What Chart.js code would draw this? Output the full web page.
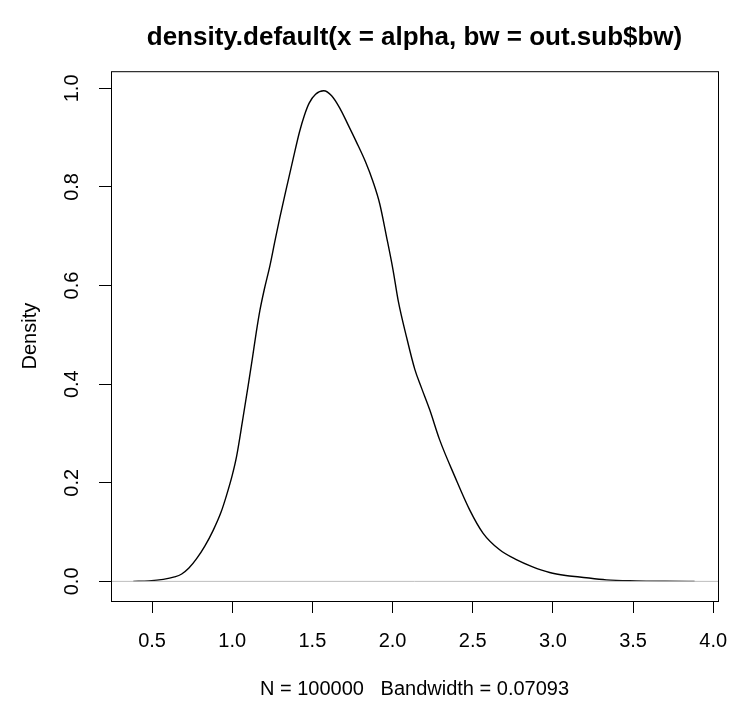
<!DOCTYPE html>
<html>
<head>
<meta charset="utf-8">
<script src="https://cdn.jsdelivr.net/npm/chart.js@4/dist/chart.umd.min.js"></script>
<style>
    html, body { margin: 0; padding: 0; background: #fff; }
    #densityChart { display: block; }
</style>
</head>
<body>
<canvas id="densityChart" width="729" height="702"></canvas>
<script>
// Density estimate
const alphaX = [0.383, 0.48, 0.570, 0.640, 0.685, 0.730, 0.778, 0.830, 0.882, 0.930,
    0.965, 1.000, 1.027, 1.065, 1.100, 1.127, 1.150, 1.173, 1.200, 1.235,
    1.265, 1.297, 1.340, 1.380, 1.420, 1.450, 1.480, 1.520, 1.571, 1.620,
    1.671, 1.720, 1.775, 1.830, 1.879, 1.920, 1.962, 2.003, 2.035, 2.087,
    2.139, 2.180, 2.232, 2.294, 2.388, 2.481, 2.564, 2.668, 2.772, 2.870,
    2.980, 3.080, 3.167, 3.333, 3.520, 3.700, 3.884];
const densityY = [0.000, 0.001, 0.004, 0.009, 0.015, 0.027, 0.046, 0.072, 0.104, 0.140,
    0.175, 0.215, 0.253, 0.327, 0.398, 0.455, 0.505, 0.550, 0.592, 0.640,
    0.688, 0.738, 0.800, 0.857, 0.912, 0.945, 0.970, 0.988, 0.995, 0.985,
    0.960, 0.928, 0.891, 0.852, 0.810, 0.766, 0.700, 0.632, 0.570, 0.496,
    0.430, 0.393, 0.348, 0.287, 0.213, 0.145, 0.098, 0.064, 0.044, 0.030,
    0.018, 0.012, 0.009, 0.003, 0.001, 0.0003, 0.000];

// Axis ranges and ticks
const xRange = [0.244, 4.03];
const yRange = [-0.0398, 1.0348];
const xTickStep = 0.5;
const yTickStep = 0.2;

const titleText = 'density.default(x = alpha, bw = out.sub$bw)';
const xLabel = 'N = 100000   Bandwidth = 0.07093';
const yLabel = 'Density';

const FONT = '"Liberation Sans", Arial, Helvetica, sans-serif';

// Box around the plot region
const boxPlugin = {
    id: 'plotBox',
    afterDraw(chart) {
        const { ctx, chartArea } = chart;
        ctx.save();
        ctx.strokeStyle = '#000';
        ctx.lineWidth = 1;
        ctx.strokeRect(chartArea.left + 0.5, chartArea.top + 0.5,
            chartArea.right - chartArea.left, chartArea.bottom - chartArea.top);
        ctx.restore();
    }
};

const curvePoints = alphaX.map((x, i) => ({ x: x, y: densityY[i] }));
const zeroLine = xRange.map(x => ({ x: x, y: 0 }));

new Chart(document.getElementById('densityChart'), {
    type: 'line',
    data: {
        datasets: [
            {
                label: 'zero',
                data: zeroLine,
                borderColor: '#bebebe',
                borderWidth: 1,
                pointRadius: 0,
                order: 0
            },
            {
                label: 'density',
                data: curvePoints,
                borderColor: '#000',
                borderWidth: 1.4,
                pointRadius: 0,
                cubicInterpolationMode: 'monotone',
                order: 1
            }
        ]
    },
    options: {
        responsive: false,
        animation: false,
        layout: { padding: { left: 0, right: 11, top: 0, bottom: 0 } },
        plugins: {
            legend: { display: false },
            tooltip: { enabled: false },
            title: {
                display: true,
                text: titleText,
                fullSize: false,
                color: '#000',
                font: { family: FONT, size: 26, weight: 'bold' },
                padding: { top: 22, bottom: 18 }
            }
        },
        scales: {
            x: {
                type: 'linear',
                min: xRange[0],
                max: xRange[1],
                afterFit: scale => {
                    scale.height = 101;
                    scale.paddingLeft = 0;
                    scale.paddingRight = 0;
                },
                border: { display: false },
                grid: { display: true, drawOnChartArea: false, drawTicks: true, tickLength: 12, color: '#000' },
                ticks: {
                    stepSize: xTickStep,
                    includeBounds: false,
                    color: '#000',
                    padding: 16,
                    maxRotation: 0,
                    font: { family: FONT, size: 20 },
                    callback: v => Number(v).toFixed(1)
                },
                title: {
                    display: true,
                    text: xLabel,
                    color: '#000',
                    font: { family: FONT, size: 20 },
                    padding: { top: 0, bottom: 1 }
                }
            },
            y: {
                type: 'linear',
                min: yRange[0],
                max: yRange[1],
                afterFit: scale => {
                    scale.width = 111;
                    scale.paddingTop = 0;
                    scale.paddingBottom = 0;
                },
                border: { display: false },
                grid: { display: true, drawOnChartArea: false, drawTicks: true, tickLength: 12, color: '#000' },
                ticks: {
                    stepSize: yTickStep,
                    includeBounds: false,
                    color: '#000',
                    padding: 13,
                    minRotation: 90,
                    maxRotation: 90,
                    crossAlign: 'center',
                    font: { family: FONT, size: 20 },
                    callback: v => Number(v).toFixed(1)
                },
                title: {
                    display: true,
                    text: yLabel,
                    color: '#000',
                    font: { family: FONT, size: 20 },
                    padding: { top: 18, bottom: 0 }
                }
            }
        }
    },
    plugins: [boxPlugin]
});
</script>
</body>
</html>
